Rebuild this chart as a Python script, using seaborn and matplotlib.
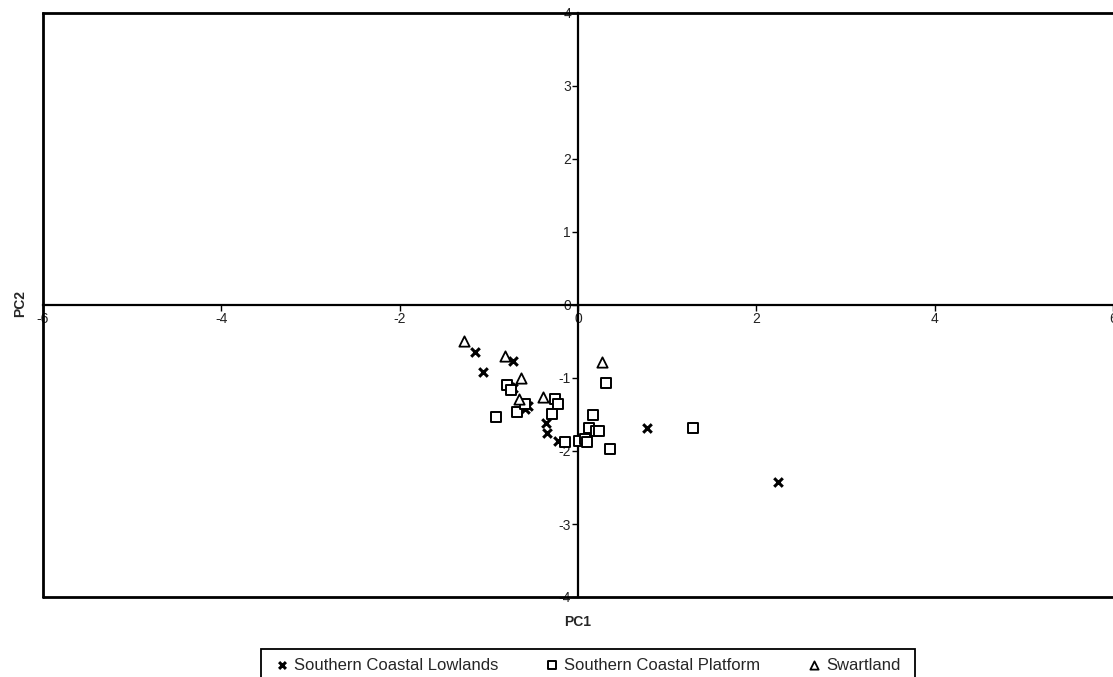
import pandas as pd
import matplotlib
matplotlib.use("Agg")
import matplotlib.pyplot as plt
from matplotlib.patches import Rectangle
import seaborn as sns

# PC scores
lowlands_x = [-1.15, -1.07, -0.73, -0.73, -0.76, -0.56, -0.59, -0.36, -0.35, -0.22, 0.77, 2.24]
lowlands_y = [-0.65, -0.92, -0.77, -1.14, -1.13, -1.39, -1.42, -1.61, -1.75, -1.86, -1.68, -2.43]

platform_x = [-0.80, -0.75, -0.92, -0.68, -0.59, -0.26, -0.22, -0.29, -0.15, 0.01, 0.08, 0.10,
              0.31, 0.17, 0.12, 0.20, 0.24, 0.36, 1.29]
platform_y = [-1.10, -1.17, -1.54, -1.46, -1.36, -1.29, -1.36, -1.50, -1.88, -1.86, -1.84, -1.88,
              -1.07, -1.51, -1.69, -1.72, -1.72, -1.97, -1.69]

swart_x = [-1.28, -0.82, -0.64, -0.66, -0.39, 0.27]
swart_y = [-0.49, -0.70, -1.00, -1.29, -1.26, -0.78]

groups = ["Southern Coastal Lowlands", "Southern Coastal Platform", "Swartland"]

df = pd.DataFrame({
    "PC1": lowlands_x + platform_x + swart_x,
    "PC2": lowlands_y + platform_y + swart_y,
    "region": [groups[0]] * len(lowlands_x) + [groups[1]] * len(platform_x) + [groups[2]] * len(swart_x),
})

sns.set_style("white")
plt.rcParams["font.family"] = ["Liberation Sans", "DejaVu Sans"]
plt.rcParams["axes.unicode_minus"] = False

fig = plt.figure(figsize=(11.13, 6.77), dpi=100)
W, H = 1113, 677
ax = fig.add_axes([43 / W, 1 - 597 / H, 1070 / W, 584 / H])

sns.scatterplot(data=df[df.region == groups[0]], x="PC1", y="PC2", marker="x",
                color="black", s=38, linewidth=2.2, ax=ax, label=groups[0], zorder=3)
sns.scatterplot(data=df[df.region == groups[1]], x="PC1", y="PC2", marker="s",
                facecolor="white", edgecolor="black", s=55, linewidth=1.4, ax=ax,
                label=groups[1], zorder=3)
sns.scatterplot(data=df[df.region == groups[2]], x="PC1", y="PC2", marker="^",
                facecolor="white", edgecolor="black", s=55, linewidth=1.3, ax=ax,
                label=groups[2], zorder=3)

ax.set_xlim(-6, 6)
ax.set_ylim(-4, 4)
ax.set_xticks([-6, -4, -2, 0, 2, 4, 6])
ax.set_yticks([-4, -3, -2, -1, 0, 1, 2, 3, 4])

# axes cross at the origin, outer frame drawn separately
ax.spines["left"].set_position(("data", 0))
ax.spines["bottom"].set_position(("data", 0))
for sp in ["left", "bottom"]:
    ax.spines[sp].set_color("black")
    ax.spines[sp].set_linewidth(1.6)
ax.spines["right"].set_visible(False)
ax.spines["top"].set_color("black")
ax.spines["top"].set_linewidth(2.0)
ax.axvline(-6, color="black", lw=2.0, clip_on=False, zorder=1)
ax.axhline(-4, color="black", lw=2.0, clip_on=False, zorder=1)

ax.tick_params(axis="both", direction="out", length=4, width=1, color="black",
               labelsize=10, pad=1, labelcolor="#222222")
ax.tick_params(left=True, bottom=True)
ax.set_xlabel("")
ax.set_ylabel("")

fig.text(578 / W, 1 - 622 / H, "PC1", ha="center", va="center", fontsize=10, fontweight="bold")
fig.text(20 / W, 1 - 304 / H, "PC2", ha="center", va="center", fontsize=10,
         fontweight="bold", rotation=90)

handles, labels = ax.get_legend_handles_labels()
ax.get_legend().remove()
leg = fig.legend(handles, labels, loc="center", bbox_to_anchor=(588 / W, 1 - 665 / H),
                 ncol=3, frameon=False, fontsize=12, handlelength=0.8,
                 handletextpad=0.3, columnspacing=2.85, borderpad=0, borderaxespad=0,
                 markerscale=0.8)
fig.patches.append(Rectangle((261 / W, 1 - 682 / H), 654 / W, 33 / H, transform=fig.transFigure,
                             fill=False, edgecolor="black", linewidth=1.3))

fig.savefig("out.png", dpi=100)
